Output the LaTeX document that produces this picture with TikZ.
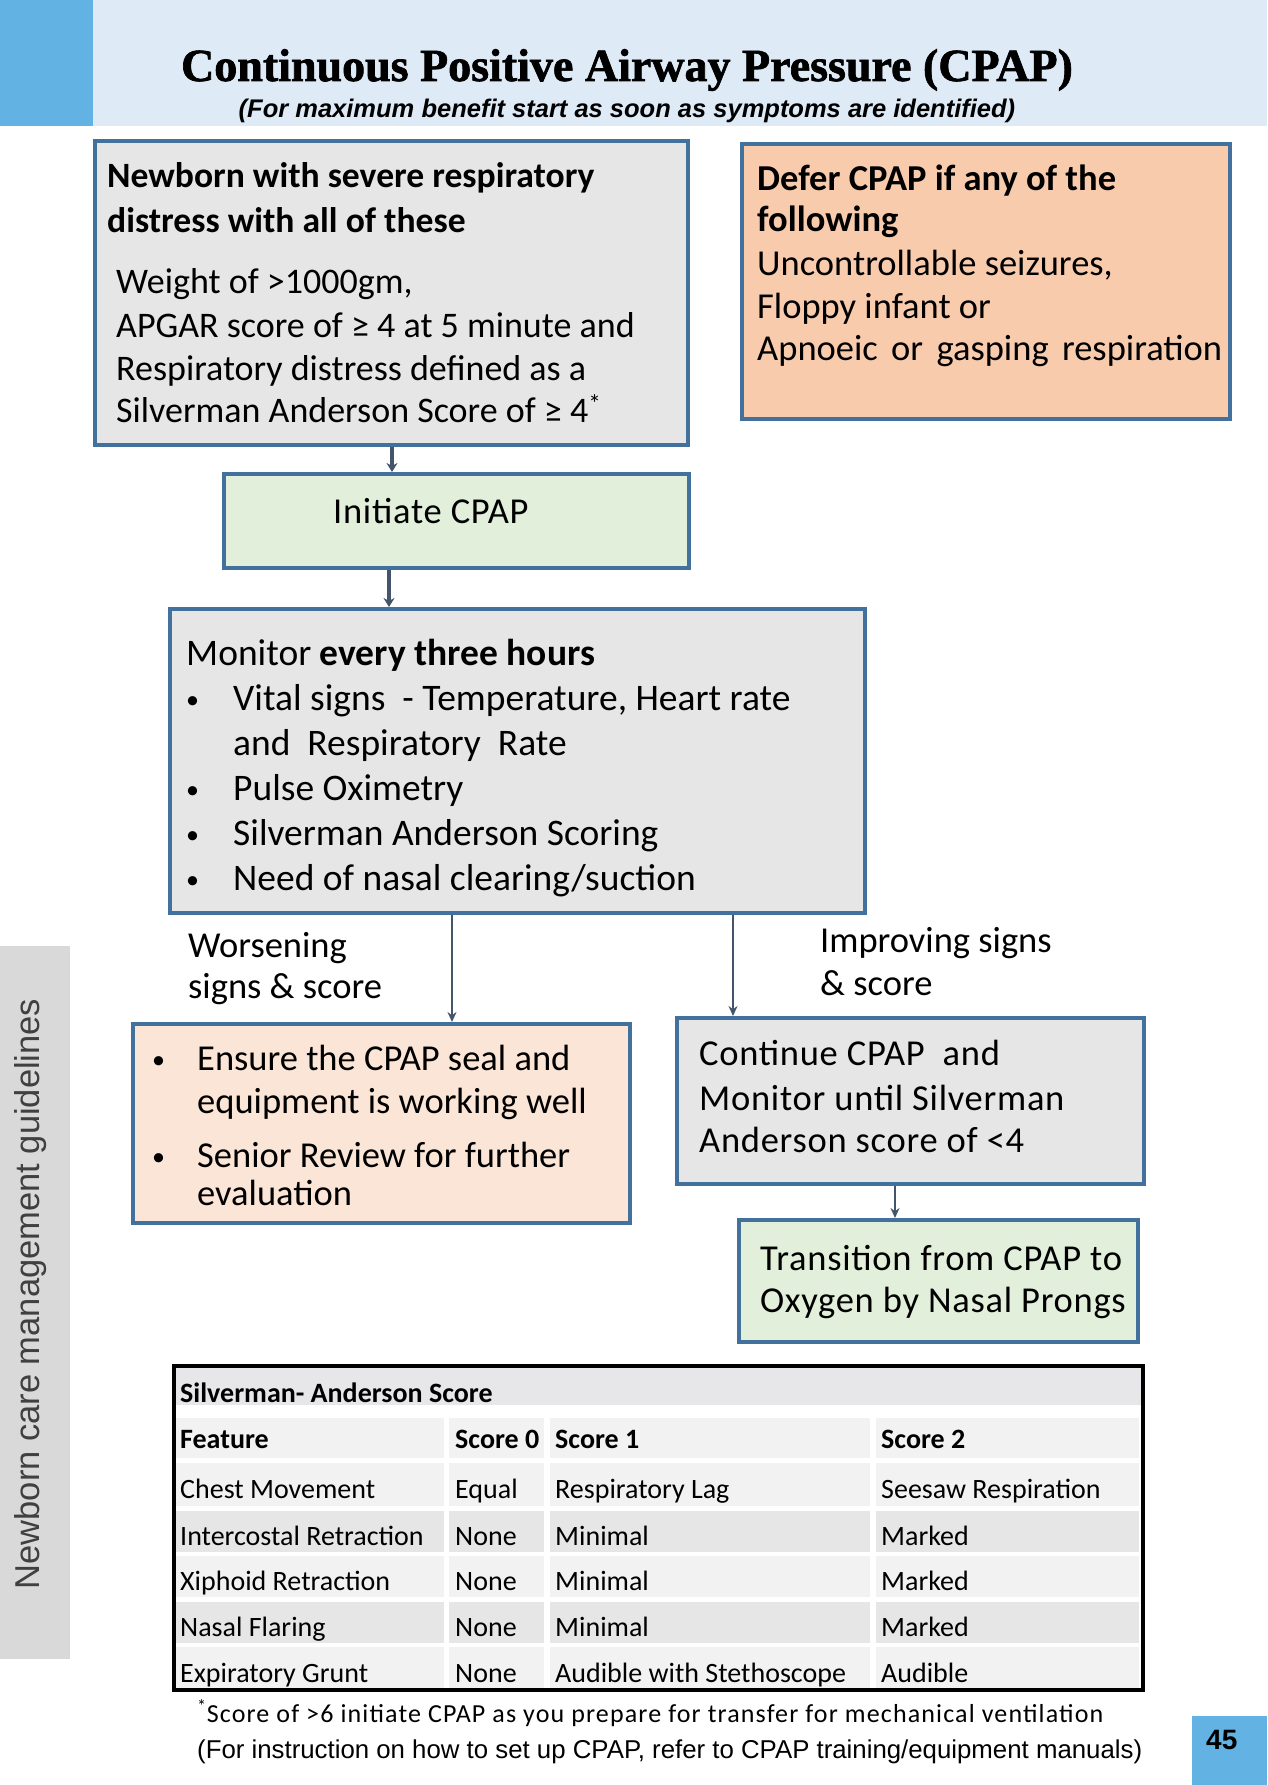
\documentclass[tikz,border=0pt]{standalone}
\usepackage{fontspec}
\setmainfont{Carlito}
\newfontfamily\arialf{Liberation Sans}
\newfontfamily\titlef[BoldFeatures={FakeBold=1.5}]{Liberation Serif}
\newfontfamily\spacedf[LetterSpace=2]{Carlito}
\newfontfamily\fnf[LetterSpace=4.4]{Carlito}
\usetikzlibrary{arrows.meta}
\definecolor{bannerbg}{HTML}{DEEAF6}
\definecolor{accent}{HTML}{62B2E4}
\definecolor{boxb}{HTML}{41719C}
\definecolor{grayfill}{HTML}{E6E6E6}
\definecolor{peach}{HTML}{F8CBAD}
\definecolor{lpeach}{HTML}{FBE5D6}
\definecolor{lgreen}{HTML}{E2EFDA}
\definecolor{arrc}{HTML}{44546A}
\definecolor{sidebg}{HTML}{D9D9D9}
\definecolor{sidetx}{HTML}{404040}
\definecolor{rowa}{HTML}{F2F2F2}
\definecolor{rowb}{HTML}{E6E6E6}
\definecolor{rowt}{HTML}{E7E7E9}
\newcommand{\bul}{\raisebox{2pt}{\fontsize{26}{30}\selectfont\textbullet}}
\begin{document}
\begin{tikzpicture}[x=1pt,y=-1pt,
  box/.style={draw=boxb, line width=3.5pt, inner sep=0pt, anchor=north west},
  txt/.style={anchor=base west, inner sep=0pt, font=\fontsize{36.5}{42}\selectfont},
  btxt/.style={txt, font=\fontsize{36.5}{42}\selectfont\bfseries},
  b1txt/.style={anchor=base west, inner sep=0pt, font=\fontsize{36}{42}\selectfont},
  b1btxt/.style={anchor=base west, inner sep=0pt, font=\fontsize{35.6}{42}\selectfont\bfseries},
  mtxt/.style={anchor=base west, inner sep=0pt, font=\fontsize{37.5}{42}\selectfont},
  stxt/.style={anchor=base west, inner sep=0pt, font=\spacedf\fontsize{36.5}{42}\selectfont},
  ttxt/.style={anchor=base west, inner sep=0pt, font=\fontsize{28}{32}\selectfont},
  arr/.style={draw=arrc, line width=3.5pt, -{Stealth[length=9pt,width=11pt]}},
  tarr/.style={draw=arrc, line width=1.8pt, -{Stealth[length=10pt,width=9pt]}}
]
\useasboundingbox (0,0) rectangle (1267,1785);
% banner
\fill[bannerbg] (93,0) rectangle (1267,126);
\fill[accent] (0,0) rectangle (93,126);
\node[anchor=base, inner sep=0pt, font=\titlef\fontsize{46}{52}\selectfont\bfseries] (title) at (627,81) {Continuous Positive Airway Pressure (CPAP)};
\node[anchor=base, inner sep=0pt, font=\arialf\fontsize{25.5}{30}\selectfont\bfseries\itshape] (subtitle) at (627,117) {(For maximum benefit start as soon as symptoms are identified)};

% boxes
\node[box, fill=grayfill, minimum width=593pt, minimum height=304pt] (b1) at (93,139) {};
\node[box, fill=peach, minimum width=488pt, minimum height=275pt] (defer) at (740,142) {};
\node[box, fill=lgreen, minimum width=465pt, minimum height=94pt] (init) at (222,472) {};
\node[box, fill=grayfill, minimum width=695pt, minimum height=304pt] (mon) at (168,607) {};
\node[box, fill=lpeach, minimum width=497pt, minimum height=199pt] (worse) at (131,1022) {};
\node[box, fill=grayfill, minimum width=467pt, minimum height=166pt] (cont) at (675,1016) {};
\node[box, fill=lgreen, minimum width=399pt, minimum height=122pt] (trans) at (737,1218) {};

% box 1 text
\node[b1btxt] (b1l1) at (107,187) {Newborn with severe respiratory};
\node[b1btxt] (b1l2) at (107,232) {distress with all of these};
\node[b1txt] (b1l3) at (116,293) {Weight of >1000gm,};
\node[b1txt] (b1l4) at (116,337) {APGAR score of ≥ 4 at 5 minute and};
\node[b1txt] (b1l5) at (116,380) {Respiratory distress defined as a};
\node[b1txt] (b1l6) at (116,422) {Silverman Anderson Score of ≥ 4\textsuperscript{*}};

% defer text
\node[btxt] (d1) at (757,190) {Defer CPAP if any of the};
\node[btxt] (d2) at (757,231) {following};
\node[txt] (d3) at (757,275) {Uncontrollable seizures,};
\node[txt] (d4) at (757,318) {Floppy infant or};
\node[txt] (d5) at (757,360) {\makebox[465pt][s]{Apnoeic or gasping respiration}};

% initiate
\node[stxt] (i1) at (333,523) {Initiate CPAP};

% monitor text
\node[mtxt] (m0) at (186,665) {Monitor \textbf{every three hours}};
\node[mtxt] (mb1) at (186,710) {\bul};
\node[mtxt] (m1) at (233,710) {Vital signs\ \ - Temperature, Heart rate};
\node[mtxt] (m2) at (233,755) {and\ \ Respiratory\ \ Rate};
\node[mtxt] (mb3) at (186,800) {\bul};
\node[mtxt] (m3) at (233,800) {Pulse Oximetry};
\node[mtxt] (mb4) at (186,845) {\bul};
\node[mtxt] (m4) at (233,845) {Silverman Anderson Scoring};
\node[mtxt] (mb5) at (186,890) {\bul};
\node[mtxt] (m5) at (233,890) {Need of nasal clearing/suction};

% branch labels
\node[txt] (w1) at (188,957) {Worsening};
\node[txt] (w2) at (188,998) {signs \& score};
\node[txt] (p1) at (820,952) {Improving signs};
\node[txt] (p2) at (820,995) {\& score};

% worse text
\node[txt] (wb1) at (152,1070) {\bul};
\node[txt] (wt1) at (197,1070) {Ensure the CPAP seal and};
\node[txt] (wt2) at (197,1113) {equipment is working well};
\node[txt] (wb3) at (152,1167) {\bul};
\node[txt] (wt3) at (197,1167) {Senior Review for further};
\node[txt] (wt4) at (197,1205) {evaluation};

% continue text
\node[stxt] (c1) at (699,1065) {Continue CPAP\ \ and};
\node[stxt] (c2) at (699,1110) {Monitor until Silverman};
\node[stxt] (c3) at (699,1152) {Anderson score of <4};

% transition text
\node[stxt] (t1) at (760,1270) {Transition from CPAP to};
\node[stxt] (t2) at (760,1312) {Oxygen by Nasal Prongs};

% connectors
\draw[arr] (b1.south -| 392,0) -- (init.north -| 392,0);
\draw[arr] (init.south -| 389,0) -- (mon.north -| 389,0);
\draw[tarr] (mon.south -| 452,0) -- (worse.north -| 452,0);
\draw[tarr] (mon.south -| 733,0) -- (cont.north -| 733,0);
\draw[tarr] (cont.south -| 895,0) -- (trans.north -| 895,0);

% sidebar
\fill[sidebg] (0,946) rectangle (70,1659);
\node[rotate=90, inner sep=0pt, text=sidetx, font=\arialf\fontsize{34.5}{40}\selectfont] (side) at (31,1294) {Newborn care management guidelines};

% table
\fill[rowt] (172,1365) rectangle (1141,1405);
\foreach \ya/\yb/\c in {1418/1458/rowa,1463/1506/rowa,1511/1552/rowb,1556/1597/rowa,1602/1643/rowb,1647/1688/rowa}{
  \fill[\c] (172,\ya) rectangle (444,\yb);
  \fill[\c] (449,\ya) rectangle (544,\yb);
  \fill[\c] (550,\ya) rectangle (870,\yb);
  \fill[\c] (876,\ya) rectangle (1139,\yb);
}
\node[draw=black, line width=3.5pt, anchor=north west, inner sep=0pt, minimum width=969pt, minimum height=324pt] (tab) at (172,1364) {};
\node[ttxt, font=\fontsize{28}{32}\selectfont\bfseries] (th) at (180,1402) {Silverman- Anderson Score};
\foreach \y/\a/\b/\cc/\d [count=\i] in {1448/\textbf{Feature}/\textbf{Score 0}/\textbf{Score 1}/\textbf{Score 2},
  1498/Chest Movement/Equal/Respiratory Lag/Seesaw Respiration,
  1545/Intercostal Retraction/None/Minimal/Marked,
  1590/Xiphoid Retraction/None/Minimal/Marked,
  1636/Nasal Flaring/None/Minimal/Marked,
  1682/Expiratory Grunt/None/Audible with Stethoscope/Audible}{
  \node[ttxt] (r\i a) at (180,\y) {\a};
  \node[ttxt] (r\i b) at (455,\y) {\b};
  \node[ttxt] (r\i c) at (555,\y) {\cc};
  \node[ttxt] (r\i d) at (881,\y) {\d};
}

% footnotes
\node[anchor=base west, inner sep=0pt, font=\fnf\fontsize{26}{30}\selectfont] (fn1) at (197,1722) {\textsuperscript{*}Score of >6 initiate CPAP as you prepare for transfer for mechanical ventilation};
\node[anchor=base west, inner sep=0pt, font=\arialf\fontsize{25.8}{30}\selectfont] (fn2) at (197,1758) {(For instruction on how to set up CPAP, refer to CPAP training/equipment manuals)};

% page number
\fill[accent] (1192,1716) rectangle (1267,1785);
\node[anchor=base west, inner sep=0pt, font=\arialf\fontsize{28}{32}\selectfont\bfseries] (pg) at (1206,1749) {45};
\end{tikzpicture}
\end{document}
